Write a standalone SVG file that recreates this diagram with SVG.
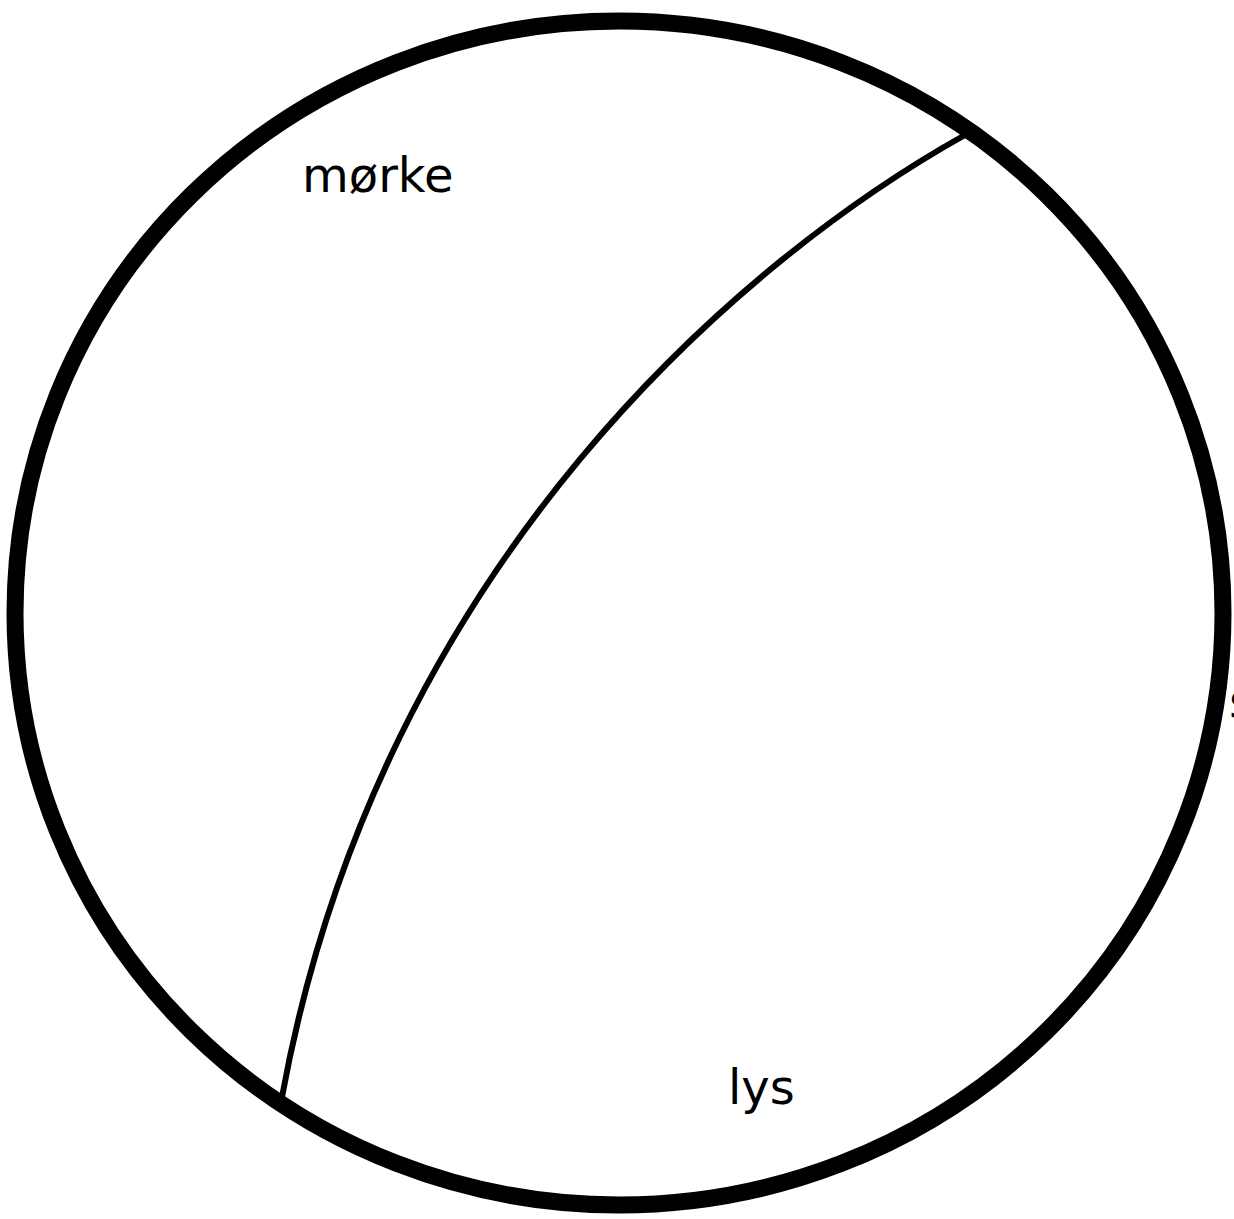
<svg xmlns="http://www.w3.org/2000/svg" width="1234" height="1219" viewBox="0 0 1234 1219">
<style>
.lbl{font-family:"DejaVu Sans","Noto Sans",sans-serif;font-size:48px;fill:#000}
.ln{fill:none;stroke:#000}
</style>
<rect width="1234" height="1219" fill="#fff"/>
<g id="circle"><ellipse class="ln" cx="619" cy="613" rx="604" ry="592" stroke-width="17"/></g>
<g id="connectors"><path class="ln" d="M965,135 C750,255 380,560 282,1097" stroke-width="6"/></g>
<g id="label-morke"><text class="lbl" x="302" y="192">mørke</text></g>
<g id="label-lys"><text class="lbl" x="728" y="1104">lys</text></g>
<g id="label-edge"><text class="lbl" x="1229" y="718">s</text></g>
</svg>
